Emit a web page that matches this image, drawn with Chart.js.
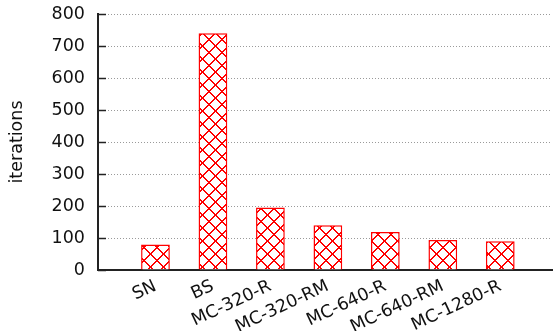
<!DOCTYPE html>
<html>
<head>
<meta charset="utf-8">
<script src="https://cdn.jsdelivr.net/npm/chart.js@4/dist/chart.umd.min.js"></script>
<style>
  html, body { margin: 0; padding: 0; background: #fff; }
  #wrap { width: 553px; height: 331px; }
</style>
</head>
<body>
<div id="wrap"><canvas id="c" width="553" height="331"></canvas></div>
<script>
// Solver runs and how many iterations each needed
const categories = ['SN', 'BS', 'MC-320-R', 'MC-320-RM', 'MC-640-R', 'MC-640-RM', 'MC-1280-R'];
const iterations = [80, 740, 195, 140, 119, 94, 90];
const yTickValues = [0, 100, 200, 300, 400, 500, 600, 700, 800];

const FONT = 'DejaVu Sans';
const HATCH_STEP = 13;

// Red cross-hatch inside each bar, laid on pixel staircases
const crossHatch = {
  id: 'crossHatch',
  afterDatasetsDraw(chart) {
    const ctx = chart.ctx;
    const meta = chart.getDatasetMeta(0);
    ctx.save();
    ctx.fillStyle = '#ff0000';
    meta.data.forEach(bar => {
      const p = bar.getProps(['x', 'y', 'base', 'width'], true);
      const x0 = Math.round(p.x - p.width / 2) + 1;
      const x1 = Math.round(p.x + p.width / 2) - 1;
      const y0 = Math.round(Math.min(p.y, p.base)) + 1;
      const y1 = Math.round(Math.max(p.y, p.base)) - 1;
      for (let py = y0; py < y1; py++) {
        for (let px = x0; px < x1; px++) {
          const a = (px + py) % HATCH_STEP;
          const b = ((px - py) % HATCH_STEP + HATCH_STEP) % HATCH_STEP;
          if (a === 0 || a === 1 || b === 0 || b === 1) ctx.fillRect(px, py, 1, 1);
        }
      }
    });
    ctx.restore();
  }
};

// Short tick marks pointing into the plot from the y axis
const innerTicks = {
  id: 'innerTicks',
  afterDraw(chart) {
    const y = chart.scales.y;
    const ctx = chart.ctx;
    ctx.save();
    ctx.strokeStyle = '#222';
    ctx.lineWidth = 1.5;
    ctx.beginPath();
    yTickValues.forEach(v => {
      const py = Math.round(y.getPixelForValue(v)) + 0.5;
      ctx.moveTo(y.right, py);
      ctx.lineTo(y.right + 8, py);
    });
    ctx.stroke();
    ctx.restore();
  }
};

const points = iterations.map((v, i) => ({ x: i, y: v }));

new Chart(document.getElementById('c'), {
  type: 'bar',
  data: {
    datasets: [{
      data: points,
      backgroundColor: '#ffffff',
      borderColor: '#ff0000',
      borderWidth: 1.5,
      barPercentage: 0.5,
      categoryPercentage: 1.0
    }]
  },
  options: {
    responsive: false,
    animation: false,
    devicePixelRatio: 1,
    layout: { padding: { left: 0, right: 1, top: 14, bottom: 0 } },
    plugins: { legend: { display: false }, tooltip: { enabled: false } },
    scales: {
      x: {
        type: 'linear',
        offset: false,
        min: -1,
        max: 6.9,
        grid: { display: false, drawTicks: false, offset: false },
        border: { display: true, color: '#222', width: 2 },
        afterBuildTicks(scale) {
          scale.ticks = categories.map((_, i) => ({ value: i }));
        },
        afterFit(scale) {
          scale.height = 61;
          scale.paddingLeft = 0;
          scale.paddingRight = 0;
        },
        ticks: {
          autoSkip: false,
          minRotation: 25,
          maxRotation: 25,
          padding: 6,
          color: '#111',
          font: { family: FONT, size: 17.5 },
          callback: (v) => categories[v] ?? ''
        }
      },
      y: {
        min: 0,
        max: 800,
        afterBuildTicks(scale) {
          scale.ticks = yTickValues.map(v => ({ value: v }));
        },
        afterFit(scale) {
          scale.width = 98;
          scale.paddingTop = 0;
          scale.paddingBottom = 0;
        },
        grid: { color: '#9a9a9a', lineWidth: 1, drawTicks: false },
        border: { display: true, color: '#222', width: 2, dash: [1, 2] },
        ticks: {
          padding: 13,
          color: '#111',
          font: { family: FONT, size: 17.5 }
        },
        title: {
          display: true,
          text: 'iterations',
          color: '#111',
          font: { family: FONT, size: 17.5 },
          padding: { top: 7, bottom: 0 }
        }
      }
    }
  },
  plugins: [crossHatch, innerTicks]
});
</script>
</body>
</html>
